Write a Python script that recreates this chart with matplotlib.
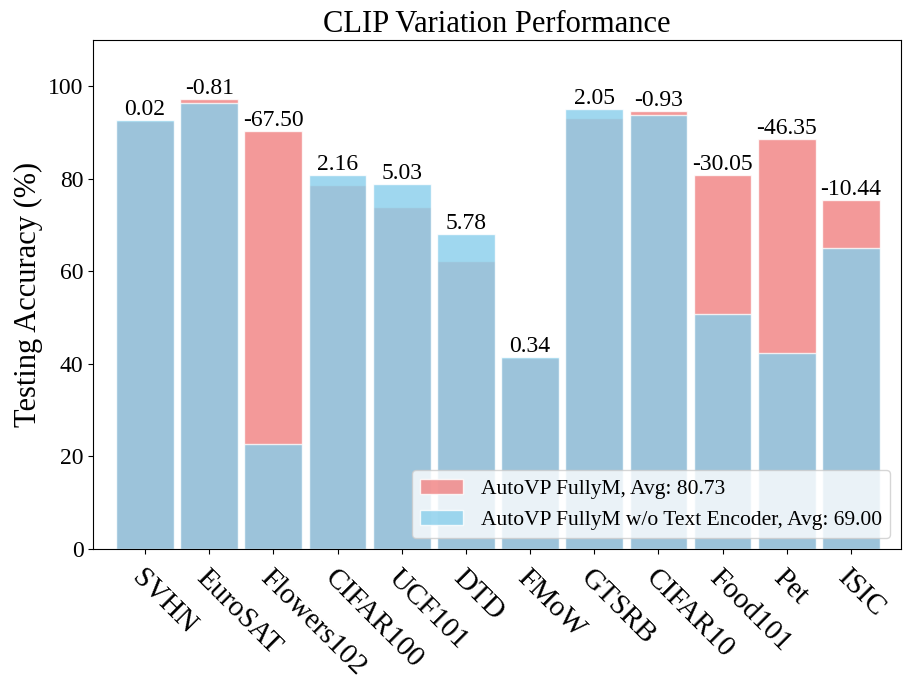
import numpy as np
import matplotlib
matplotlib.use('Agg')
import matplotlib.pyplot as plt

plt.rcParams['font.family'] = ['Liberation Serif', 'DejaVu Serif']

datasets = ['SVHN', 'EuroSAT', 'Flowers102', 'CIFAR100', 'UCF101', 'DTD',
            'FMoW', 'GTSRB', 'CIFAR10', 'Food101', 'Pet', 'ISIC']
# AutoVP FullyM accuracy
fullym = [92.60, 97.20, 90.30, 78.60, 73.90, 62.20, 41.20, 93.10, 94.70, 80.90, 88.66, 75.40]
# AutoVP FullyM without text encoder
no_text = [92.62, 96.39, 22.80, 80.76, 78.93, 67.98, 41.54, 95.15, 93.77, 50.85, 42.31, 64.96]
diffs = ['0.02', '-0.81', '-67.50', '2.16', '5.03', '5.78', '0.34', '2.05', '-0.93',
         '-30.05', '-46.35', '-10.44']

x = np.arange(len(datasets))
fig = plt.figure(figsize=(9.13, 6.85), dpi=100)
ax = fig.add_axes([0.1022, 0.1985, 0.8847, 0.743])

ax.bar(x, fullym, width=0.9, color='lightcoral', alpha=0.8, edgecolor='white',
       label='AutoVP FullyM, Avg: 80.73')
ax.bar(x, no_text, width=0.9, color='skyblue', alpha=0.8, edgecolor='white',
       label='AutoVP FullyM w/o Text Encoder, Avg: 69.00')

for i in range(len(datasets)):
    top = max(fullym[i], no_text[i])
    ax.text(x[i], top, diffs[i], ha='center', va='bottom', fontsize=17)

ax.set_xlim(-0.805, 11.78)
ax.set_ylim(0, 110)
ax.set_yticks([0, 20, 40, 60, 80, 100])
ax.set_xticks(x)
ax.set_xticklabels(datasets, rotation=-45, ha='left', rotation_mode='anchor', fontsize=21)
ax.tick_params(axis='x', pad=8)
ax.tick_params(axis='y', labelsize=17)
ax.set_ylabel('Testing Accuracy (%)', fontsize=22)
ax.set_title('CLIP Variation Performance', fontsize=22)
ax.legend(loc='lower right', fontsize=15.5)

plt.savefig('out.png')
